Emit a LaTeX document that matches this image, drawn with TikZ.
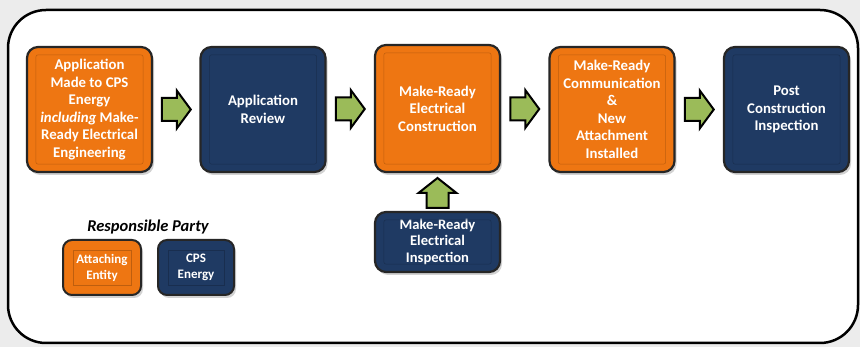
\documentclass[tikz,border=0pt]{standalone}
\usepackage{fontspec}
\setmainfont{Carlito}
\usetikzlibrary{shadows,calc}
\definecolor{cpsorange}{RGB}{238,118,18}
\definecolor{cpsnavy}{RGB}{31,58,99}
\definecolor{arrowgreen}{RGB}{155,187,89}
\definecolor{bggray}{RGB}{236,236,236}
\begin{document}
\begin{tikzpicture}[x=1pt,y=-1pt,
  box/.style={draw=black!85,line width=2.2pt,rounded corners=11pt,
    minimum width=125pt,minimum height=125pt,inner sep=1pt,
    text=white,font=\fontsize{14.8}{17.5}\selectfont\bfseries,align=center,
    drop shadow={shadow xshift=2pt,shadow yshift=-3pt,opacity=0.35}},
  orangebox/.style={box,fill=cpsorange},
  navybox/.style={box,fill=cpsnavy},
  smallbox/.style={font=\fontsize{13}{16}\selectfont\bfseries,line width=2pt,rounded corners=9pt},
  innerline/.style={line width=0.5pt,draw=#1},
  garrow/.style={draw=black,line width=2pt,fill=arrowgreen,line join=miter}
]
\useasboundingbox (0,0) rectangle (860,347);
\fill[bggray] (0,0) rectangle (860,347);
\draw[line width=2.5pt,fill=white,rounded corners=38pt] (8,10) rectangle (858,343);

\node[orangebox] (b1) at (89.5,109.5) {Application\\Made to CPS\\Energy\\\textit{including} Make-\\Ready Electrical\\Engineering};
\node[navybox] (b2) at (263,109.5) {Application\\Review};
\node[orangebox,minimum height=127pt] (b3) at (437.5,108.5) {Make-Ready\\Electrical\\Construction};
\node[orangebox] (b4) at (612,109.5) {Make-Ready\\Communication\\\&\\New\\Attachment\\Installed};
\node[navybox] (b5) at (786.5,109.5) {Post\\Construction\\Inspection};
\node[navybox,minimum height=60pt,font=\fontsize{14.6}{16.5}\selectfont\bfseries] (b6) at (437.5,242) {Make-Ready\\Electrical\\Inspection};

\node[font=\fontsize{16.5}{19}\selectfont\bfseries\itshape] (lt) at (148,227) {Responsible Party};
\node[orangebox,smallbox,minimum width=78pt,minimum height=55pt] (l1) at (102,267.5) {Attaching\\Entity};
\node[navybox,smallbox,minimum width=76pt,minimum height=55pt] (l2) at (196,267.5) {CPS\\Energy};

\foreach \n/\c in {b1/cpsorange,b2/cpsnavy,b3/cpsorange,b4/cpsorange,b5/cpsnavy,b6/cpsnavy}{
  \draw[innerline=\c!80!black,rounded corners=2pt] ([shift={(10,9)}]\n.north west) rectangle ([shift={(-10,-9)}]\n.south east);
}
\foreach \n/\c in {l1/cpsorange,l2/cpsnavy}{
  \draw[innerline=\c!80!black] ([shift={(11,11)}]\n.north west) rectangle ([shift={(-11,-11)}]\n.south east);
}

\foreach \a/\b/\m in {b1/b2/m1,b2/b3/m2,b3/b4/m3,b4/b5/m4}{
  \coordinate (\m) at ($(\a.east)!0.5!(\b.west)$);
  \draw[garrow] ([shift={(-14.5,-11.5)}]\m) -- ([shift={(0.5,-11.5)}]\m) -- ([shift={(0.5,-19)}]\m)
    -- ([shift={(14.5,0)}]\m) -- ([shift={(0.5,19)}]\m) -- ([shift={(0.5,11.5)}]\m)
    -- ([shift={(-14.5,11.5)}]\m) -- cycle;
}
\coordinate (m5) at ($(b6.north)!0.5!(b3.south)$);
\draw[garrow] ([shift={(-11,16)}]m5) -- ([shift={(-11,1)}]m5) -- ([shift={(-19,1)}]m5)
  -- ([shift={(0,-14)}]m5) -- ([shift={(19,1)}]m5) -- ([shift={(11,1)}]m5)
  -- ([shift={(11,16)}]m5) -- cycle;
\end{tikzpicture}
\end{document}
